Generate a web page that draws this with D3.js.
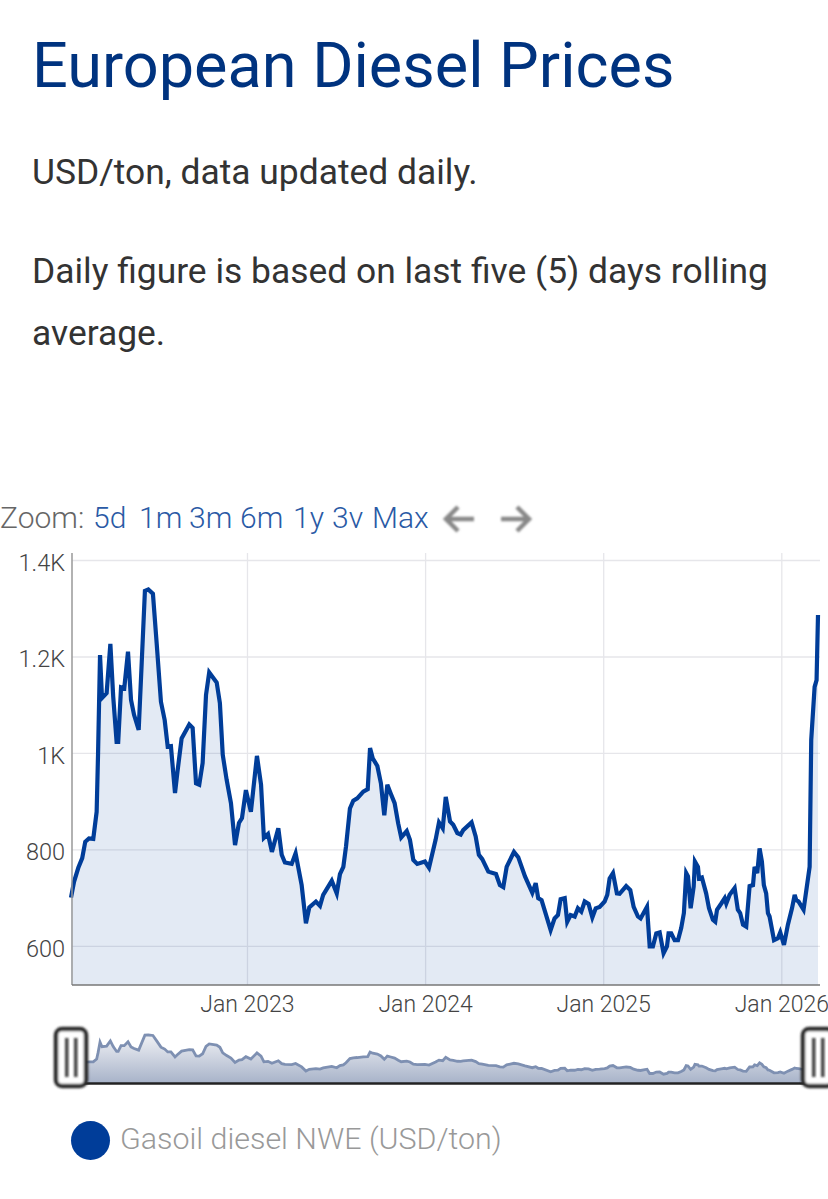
<!DOCTYPE html>
<html>
<head>
<meta charset="utf-8">
<script src="https://cdn.jsdelivr.net/npm/d3@7"></script>
<style>
  html, body { margin: 0; padding: 0; background: #fff; overflow: hidden; }
  svg { display: block; }
  .copy { font-family: Roboto, sans-serif; }
  .chart-text { font-family: Roboto, sans-serif; font-weight: 300; }
</style>
</head>
<body>
<script>
//////Data

var years = [
  2022.012, 2022.029, 2022.053, 2022.075, 2022.092, 2022.113, 2022.137, 2022.156, 2022.164, 2022.175,
  2022.186, 2022.212, 2022.233, 2022.249, 2022.268, 2022.277, 2022.293, 2022.311, 2022.332, 2022.349,
  2022.366, 2022.392, 2022.409, 2022.427, 2022.446, 2022.472, 2022.493, 2022.517, 2022.538, 2022.555,
  2022.573, 2022.596, 2022.609, 2022.633, 2022.676, 2022.695, 2022.714, 2022.732, 2022.751, 2022.770,
  2022.788, 2022.830, 2022.848, 2022.864, 2022.886, 2022.910, 2022.933, 2022.955, 2022.972, 2022.994,
  2023.022, 2023.056, 2023.079, 2023.095, 2023.118, 2023.140, 2023.176, 2023.195, 2023.213, 2023.251,
  2023.273, 2023.307, 2023.331, 2023.350, 2023.387, 2023.410, 2023.428, 2023.476, 2023.504, 2023.522,
  2023.541, 2023.556, 2023.578, 2023.597, 2023.619, 2023.653, 2023.678, 2023.691, 2023.706, 2023.732,
  2023.752, 2023.771, 2023.788, 2023.807, 2023.829, 2023.849, 2023.866, 2023.897, 2023.915, 2023.934,
  2023.956, 2023.999, 2024.022, 2024.059, 2024.078, 2024.099, 2024.116, 2024.140, 2024.158, 2024.181,
  2024.200, 2024.214, 2024.261, 2024.284, 2024.302, 2024.321, 2024.355, 2024.398, 2024.420, 2024.439,
  2024.458, 2024.499, 2024.523, 2024.561, 2024.602, 2024.621, 2024.635, 2024.654, 2024.705, 2024.727,
  2024.746, 2024.761, 2024.784, 2024.798, 2024.817, 2024.840, 2024.858, 2024.877, 2024.896, 2024.918,
  2024.939, 2024.958, 2024.980, 2025.008, 2025.023, 2025.036, 2025.055, 2025.077, 2025.092, 2025.129,
  2025.152, 2025.171, 2025.195, 2025.210, 2025.246, 2025.261, 2025.279, 2025.298, 2025.317, 2025.339,
  2025.358, 2025.367, 2025.382, 2025.401, 2025.420, 2025.438, 2025.453, 2025.466, 2025.476, 2025.491,
  2025.508, 2025.515, 2025.532, 2025.538, 2025.554, 2025.578, 2025.594, 2025.616, 2025.629, 2025.639,
  2025.663, 2025.682, 2025.691, 2025.710, 2025.738, 2025.756, 2025.769, 2025.785, 2025.803, 2025.822,
  2025.841, 2025.850, 2025.865, 2025.878, 2025.891, 2025.902, 2025.915, 2025.925, 2025.934, 2025.959,
  2025.981, 2025.994, 2026.015, 2026.037, 2026.060, 2026.075, 2026.084, 2026.097, 2026.125, 2026.159,
  2026.168, 2026.187, 2026.198, 2026.206
];

var prices = [
  700, 733, 762, 782, 816, 823, 822, 878, 1000, 1203,
  1114, 1124, 1226, 1117, 1023, 1023, 1136, 1134, 1210, 1110,
  1079, 1048, 1187, 1336, 1339, 1330, 1227, 1106, 1068, 1013,
  1014, 917, 959, 1030, 1059, 1052, 937, 934, 979, 1120,
  1167, 1146, 1103, 996, 944, 896, 809, 855, 865, 923,
  878, 994, 934, 824, 832, 795, 844, 789, 773, 770,
  792, 726, 647, 680, 692, 683, 706, 735, 709, 749,
  764, 806, 885, 901, 906, 920, 925, 1010, 989, 973,
  937, 871, 934, 916, 896, 854, 825, 838, 820, 778,
  770, 775, 762, 820, 856, 844, 909, 858, 851, 834,
  831, 840, 856, 827, 789, 780, 754, 749, 726, 722,
  764, 795, 784, 744, 710, 730, 699, 695, 633, 657,
  664, 697, 699, 650, 664, 661, 678, 671, 692, 687,
  659, 678, 681, 692, 706, 740, 751, 709, 708, 724,
  716, 681, 661, 657, 681, 599, 599, 626, 628, 585,
  599, 626, 626, 612, 612, 637, 668, 751, 744, 678,
  723, 775, 764, 740, 742, 709, 678, 654, 650, 675,
  688, 699, 688, 706, 720, 675, 668, 644, 640, 724,
  726, 764, 751, 802, 775, 726, 709, 668, 661, 612,
  616, 628, 602, 644, 678, 706, 695, 692, 675, 764,
  1027, 1137, 1151, 1286
];

var yTicks = [600, 800, 1000, 1200, 1400];
var yearTicks = [2023, 2024, 2025, 2026];
var zoomLabels = ["5d", "1m", "3m", "6m", "1y", "3v", "Max"];
var seriesName = "Gasoil diesel NWE (USD/ton)";

var points = years.map(function (year, i) {
  return { year: year, price: prices[i] };
});

//////Layout

var blue = "#003d99";
var svg = d3.select("body").append("svg").attr("width", 828).attr("height", 1199);
var defs = svg.append("defs");

defs.append("filter").attr("id", "soft")
  .attr("x", "-30%").attr("y", "-30%").attr("width", "160%").attr("height", "160%")
  .append("feGaussianBlur").attr("stdDeviation", 0.8);

var navGradient = defs.append("linearGradient")
  .attr("id", "navFill").attr("x1", 0).attr("x2", 0).attr("y1", 0).attr("y2", 1);
navGradient.append("stop").attr("offset", "0%").attr("stop-color", "#f0f1f5");
navGradient.append("stop").attr("offset", "100%").attr("stop-color", "#a8b3c9");

//////Header text

svg.append("text").attr("class", "copy")
  .attr("x", 32).attr("y", 87)
  .attr("font-size", 63).attr("fill", "#00337f")
  .text("European Diesel Prices");

var bodyLines = [
  ["USD/ton, data updated daily.", 184],
  ["Daily figure is based on last five (5) days rolling", 283],
  ["average.", 345]
];
bodyLines.forEach(function (line) {
  svg.append("text").attr("class", "copy")
    .attr("x", 32).attr("y", line[1])
    .attr("font-size", 35.4).attr("fill", "#333")
    .text(line[0]);
});

//////Zoom buttons

svg.append("text").attr("class", "chart-text")
  .attr("x", 0).attr("y", 528)
  .attr("font-size", 30).attr("fill", "#666")
  .text("Zoom:");

var zoomX = [93, 139, 189, 240, 293, 332, 372];
zoomLabels.forEach(function (label, i) {
  svg.append("text").attr("class", "chart-text")
    .attr("x", zoomX[i]).attr("y", 528)
    .attr("font-size", 30).attr("fill", "#2a5aa5")
    .text(label);
});

var arrows = svg.append("g").attr("fill", "none").attr("stroke", "#888")
  .attr("stroke-width", 4.5).attr("filter", "url(#soft)");
arrows.append("path").attr("d", "M474,519H446M458,507L446,519L458,531");
arrows.append("path").attr("d", "M501,519H529M517,507L529,519L517,531");

//////Main chart

var x = d3.scaleLinear().domain([2022.012, 2026.206]).range([71, 818]);
var y = d3.scaleLinear().domain([519, 1400]).range([985, 560]);

var xAxis = d3.axisBottom(x)
  .tickValues(yearTicks)
  .tickSize(-432)
  .tickFormat(function (d) { return "Jan " + d; });

var yAxis = d3.axisLeft(y)
  .tickValues(yTicks)
  .tickSize(-748)
  .tickPadding(7)
  .tickFormat(function (d) { return d >= 1000 ? d / 1000 + "K" : d; });

var yAxisG = svg.append("g").attr("transform", "translate(72,0)").call(yAxis);
var xAxisG = svg.append("g").attr("transform", "translate(0,985)").call(xAxis);

[xAxisG, yAxisG].forEach(function (g) {
  g.select(".domain").remove();
  g.selectAll(".tick line").attr("stroke", "#e6e6ea").attr("stroke-width", 1.3);
  g.selectAll("text").attr("class", "chart-text").attr("fill", "#444");
});
yAxisG.selectAll("text").attr("font-size", 23.5).attr("dy", "0.44em");
xAxisG.selectAll("text").attr("font-size", 23).attr("y", 11);

var area = d3.area()
  .x(function (d) { return x(d.year); })
  .y0(y(519))
  .y1(function (d) { return y(d.price); });

var line = d3.line()
  .x(function (d) { return x(d.year); })
  .y(function (d) { return y(d.price); });

svg.append("path").datum(points)
  .attr("d", area).attr("fill", blue).attr("fill-opacity", 0.11);

svg.append("path").datum(points)
  .attr("d", line).attr("fill", "none").attr("stroke", blue)
  .attr("stroke-width", 4.2).attr("stroke-linejoin", "miter");

svg.append("line").attr("x1", 72).attr("x2", 72).attr("y1", 553).attr("y2", 985)
  .attr("stroke", "#999").attr("stroke-width", 1.5);
svg.append("line").attr("x1", 72).attr("x2", 820).attr("y1", 985).attr("y2", 985)
  .attr("stroke", "#777").attr("stroke-width", 1.5);

//////Navigator

var navY = d3.scaleLinear().domain([416, 1339]).range([1083, 1035]);

var navArea = d3.area()
  .x(function (d) { return x(d.year); })
  .y0(navY(416))
  .y1(function (d) { return navY(d.price); });

var navLine = d3.line()
  .x(function (d) { return x(d.year); })
  .y(function (d) { return navY(d.price); });

svg.append("path").datum(points).attr("d", navArea).attr("fill", "url(#navFill)");
svg.append("path").datum(points).attr("d", navLine)
  .attr("fill", "none").attr("stroke", "#7e90b2").attr("stroke-width", 2.8);

svg.append("line").attr("x1", 60).attr("x2", 828).attr("y1", 1083.5).attr("y2", 1083.5)
  .attr("stroke", "#222").attr("stroke-width", 2.4);

function drawHandle(left, width) {
  var g = svg.append("g");
  g.append("rect").attr("x", left + 2).attr("y", 1029)
    .attr("width", width - 4).attr("height", 57).attr("rx", 6)
    .attr("fill", "#fff").attr("stroke", "#2b2b2b").attr("stroke-width", 4.5)
    .attr("filter", "url(#soft)");
  [11, 20].forEach(function (dx) {
    g.append("rect").attr("x", left + dx).attr("width", 3.5)
      .attr("y", 1038).attr("height", 39)
      .attr("fill", "#444").attr("filter", "url(#soft)");
  });
}
drawHandle(54, 34);
drawHandle(801, 34);

//////Legend

svg.append("circle").attr("cx", 90.5).attr("cy", 1140.5).attr("r", 19.5).attr("fill", blue);
svg.append("text").attr("class", "chart-text")
  .attr("x", 120).attr("y", 1149)
  .attr("font-size", 30.4).attr("fill", "#999")
  .text(seriesName);
</script>
</body>
</html>
